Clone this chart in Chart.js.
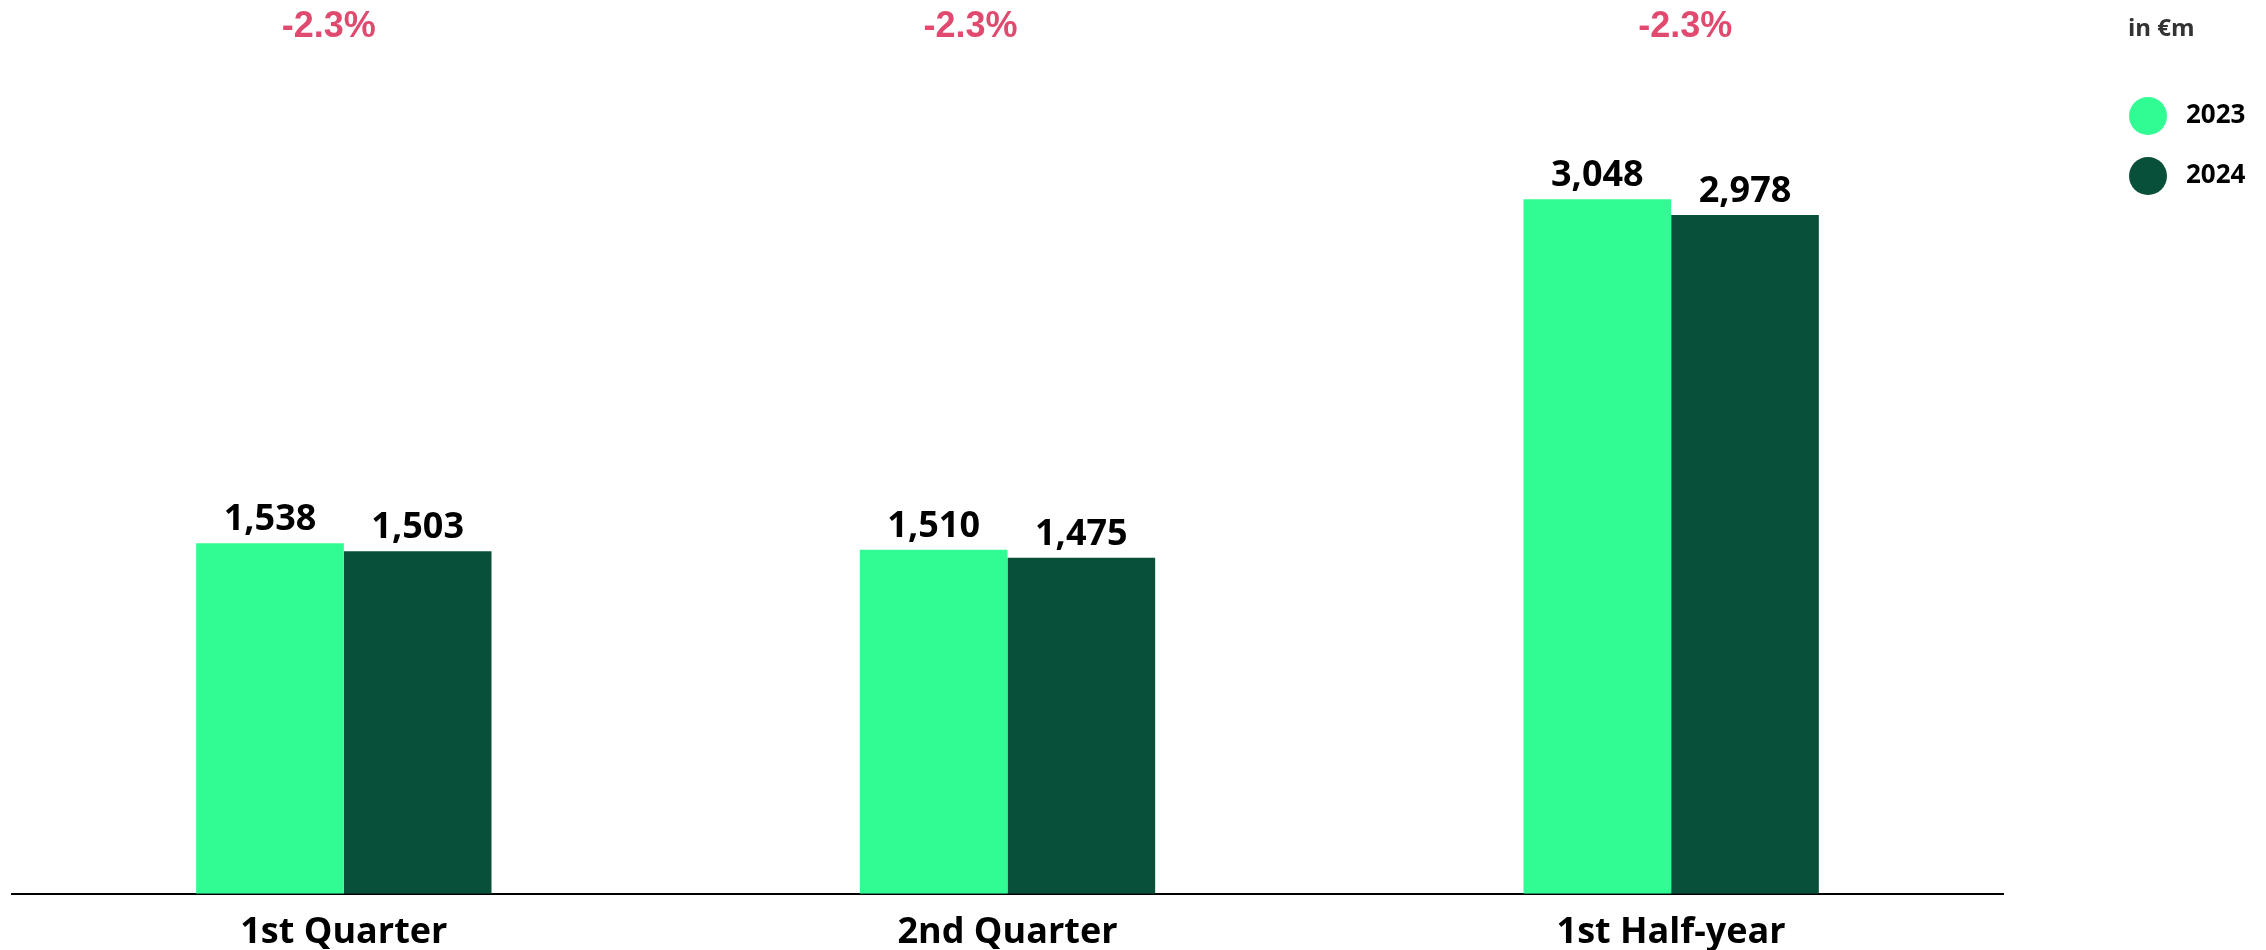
<!DOCTYPE html>
<html>
<head>
<meta charset="utf-8">
<script src="https://cdn.jsdelivr.net/npm/chart.js@4.4.1/dist/chart.umd.min.js"></script>
<style>
    html, body { margin: 0; padding: 0; background: #ffffff; }
    #wrap { width: 2266px; height: 950px; position: relative; }
</style>
</head>
<body>
<div id="wrap"><canvas id="salesChart"></canvas></div>
<script>
// data
const categories = ['1st Quarter', '2nd Quarter', '1st Half-year'];
const series2023 = [1538, 1510, 3048];
const series2024 = [1503, 1475, 2978];
const changeLabels = ['-2.3%', '-2.3%', '-2.3%'];
const seriesNames = ['2023', '2024'];
const unitLabel = 'in €m';

const colors = ['#30fc93', '#09503a'];
// the change labels sit a little off the group centre in the original
const changeShift = [-15, -37, 14];

// value labels above bars, change % on top, custom legend
const annotations = {
    id: 'annotations',
    afterDatasetsDraw(chart) {
        const ctx = chart.ctx;
        ctx.save();

        // bar values
        ctx.font = 'bold 36px "Open Sans"';
        ctx.fillStyle = '#000000';
        ctx.textAlign = 'center';
        ctx.textBaseline = 'alphabetic';
        chart.data.datasets.forEach((ds, i) => {
            chart.getDatasetMeta(i).data.forEach((bar, j) => {
                ctx.fillText(ds.data[j].toLocaleString('en-US'), bar.x, bar.y - 13);
            });
        });

        // change percentages
        const xScale = chart.scales.x;
        ctx.font = 'bold 36px "Liberation Sans"';
        ctx.fillStyle = '#e04a6f';
        ctx.textBaseline = 'middle';
        changeLabels.forEach((txt, j) => {
            ctx.fillText(txt, xScale.getPixelForValue(j) + changeShift[j], 27);
        });

        // legend
        ctx.textAlign = 'left';
        ctx.font = 'bold 24px "Open Sans"';
        ctx.fillStyle = '#333333';
        ctx.fillText(unitLabel, 2128, 29);
        ctx.font = 'bold 26px "Open Sans"';
        seriesNames.forEach((name, i) => {
            const y = 116 + i * 60;
            ctx.beginPath();
            ctx.arc(2148, y, 19, 0, Math.PI * 2);
            ctx.fillStyle = colors[i];
            ctx.fill();
            ctx.fillStyle = '#000000';
            ctx.fillText(name, 2186, y);
        });

        ctx.restore();
    }
};

document.addEventListener('DOMContentLoaded', function() {
    const ctx = document.getElementById('salesChart').getContext('2d');

    new Chart(ctx, {
        type: 'bar',
        data: {
            labels: categories,
            datasets: [{
                label: seriesNames[0],
                data: series2023,
                backgroundColor: colors[0],
                borderWidth: 0
            }, {
                label: seriesNames[1],
                data: series2024,
                backgroundColor: colors[1],
                borderWidth: 0
            }]
        },
        options: {
            responsive: true,
            maintainAspectRatio: false,
            animation: false,
            categoryPercentage: 0.445,
            barPercentage: 1,
            layout: {
                padding: { left: 12, right: 263, top: 5, bottom: -21 }
            },
            scales: {
                x: {
                    grid: { display: false, drawTicks: false },
                    border: { display: true, color: '#000000', width: 2 },
                    ticks: {
                        color: '#000000',
                        padding: 17,
                        font: { family: 'Open Sans', size: 36, weight: 'bold' }
                    }
                },
                y: {
                    display: false,
                    min: 0,
                    max: 3900
                }
            },
            plugins: {
                legend: { display: false },
                tooltip: { enabled: false }
            }
        },
        plugins: [annotations]
    });
});
</script>
</body>
</html>
